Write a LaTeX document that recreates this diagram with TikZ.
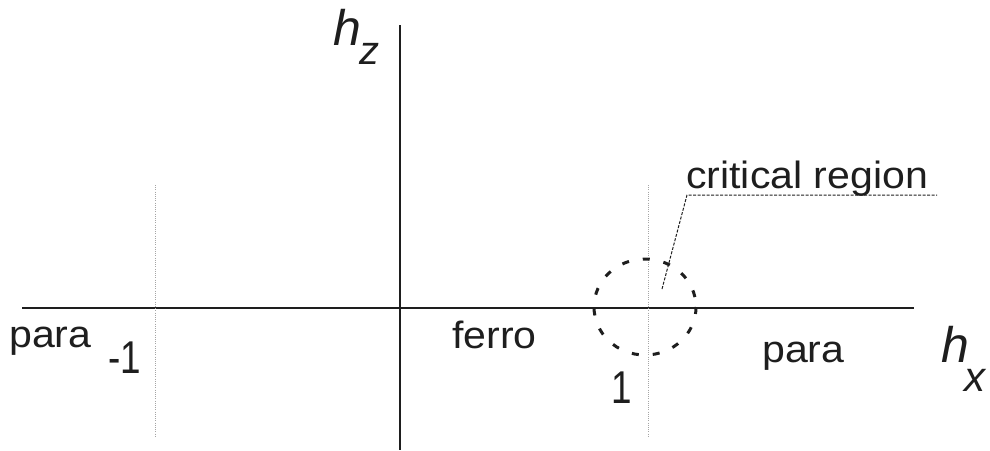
\documentclass[tikz,border=0pt]{standalone}
\usepackage{fontspec}
\setmainfont{Liberation Sans}
\usetikzlibrary{positioning}
\definecolor{ink}{RGB}{30,30,30}
\definecolor{guide}{RGB}{165,165,165}
\newcommand{\widetext}[1]{\scalebox{1.08}[1]{#1}}
\newcommand{\narrowtext}[1]{\scalebox{0.8}[1]{#1}}
\tikzset{
  axis/.style      = {draw=ink, line width=1.6pt},
  guideline/.style = {draw=guide, line width=0.8pt, dash pattern=on 1pt off 1.2pt},
  region/.style    = {draw=ink, line width=3pt, dash pattern=on 7pt off 14pt},
  leader/.style    = {draw=ink, line width=1pt, dash pattern=on 3pt off 1.5pt},
  word/.style      = {inner sep=0pt, anchor=base west, text=ink,
                      font=\fontsize{38}{42}\selectfont},
  digit/.style     = {word, font=\fontsize{46}{50}\selectfont},
  axlabel/.style   = {inner sep=0pt, anchor=base west, text=ink,
                      font=\fontsize{50}{56}\selectfont\itshape},
}
\begin{document}
\begin{tikzpicture}[x=1pt, y=-1pt]
\useasboundingbox (0,0) rectangle (990,450);
% axes
\coordinate (xl) at (22,308);
\coordinate (xr) at (914,308);
\coordinate (zt) at (400,25);
\coordinate (zb) at (400,450);
\draw[axis] (xl) -- (xr);
\draw[axis] (zt) -- (zb);
% lines at -1 and 1
\coordinate (mtop) at (155,185);
\coordinate (mbot) at (155,436);
\coordinate (ptop) at (648,185);
\coordinate (pbot) at (648,436);
\draw[guideline] (mtop) -- (mbot);
\draw[guideline] (ptop) -- (pbot);
% critical region
\coordinate (crc) at (645,307);
\draw[region] (crc) ellipse (51 and 48);
\node[word] (crit) at (686,188) {\widetext{critical region}};
\coordinate (tip) at (662,289);
\coordinate (bend) at (687,195);
\coordinate (lend) at (937,195);
\draw[leader] (tip) -- (bend) -- (lend);
% labels
\node[word] (paraL) at (9,347) {\widetext{para}};
\node[digit] (minus) at (108,373) {\narrowtext{-1}};
\node[word] (ferro) at (452,348) {\widetext{ferro}};
\node[digit] (one) at (611,403) {\narrowtext{1}};
\node[word] (paraR) at (762,362) {\widetext{para}};
\node[axlabel] (hz) at (333,45) {h\kern-2pt\raisebox{-19pt}{\fontsize{40}{44}\selectfont z}};
\node[axlabel] (hx) at (941,362) {h\kern-5pt\raisebox{-29pt}{\fontsize{42}{46}\selectfont x}};
\end{tikzpicture}
\end{document}
